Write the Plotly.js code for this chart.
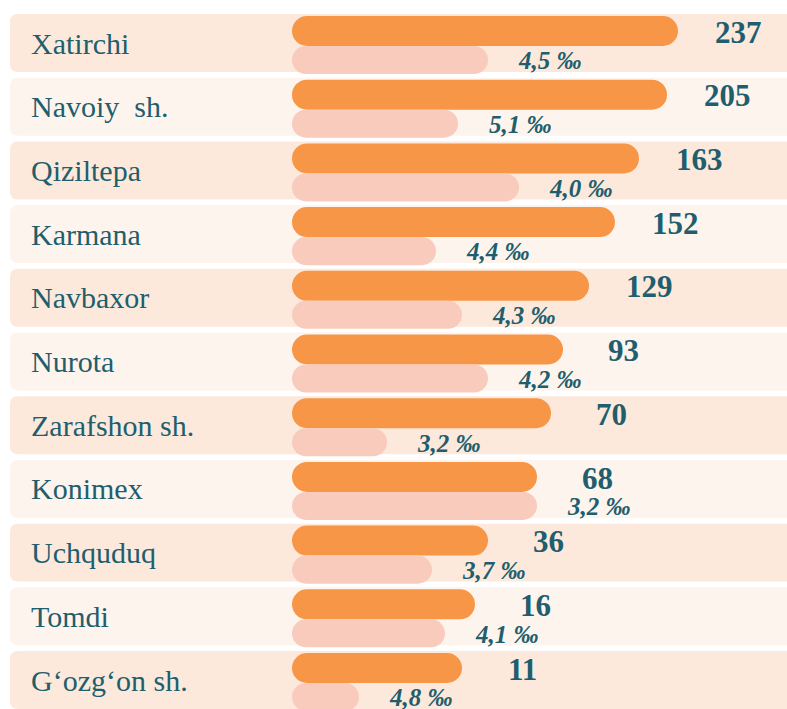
<!DOCTYPE html>
<html>
<head>
<meta charset="utf-8">
<script src="https://cdn.plot.ly/plotly-3.0.1.min.js"></script>
<style>html,body{margin:0;padding:0;background:#fff;}#chart{width:787px;height:709px;}</style>
</head>
<body>
<div id="chart"></div>
<script>
// Districts (top to bottom)
const districts = ["Xatirchi", "Navoiy  sh.", "Qiziltepa", "Karmana", "Navbaxor", "Nurota",
  "Zarafshon sh.", "Konimex", "Uchquduq", "Tomdi", "G‘ozg‘on sh."];
// Absolute numbers shown as labels
const counts = [237, 205, 163, 152, 129, 93, 70, 68, 36, 16, 11];
// Rates (per mille) shown as labels
const rates = ["4,5", "5,1", "4,0", "4,4", "4,3", "4,2", "3,2", "3,2", "3,7", "4,1", "4,8"];
// Bar lengths as drawn in the picture (picture's own bar scale)
const countBar = [386, 375, 347, 323, 297, 271, 259, 245, 196, 183, 170];
const rateBar = [196, 166, 227, 144, 170, 196, 95, 245, 140, 153, 67];

const TEXT = "#215e6d";
const SERIF = "'Liberation Serif', 'Times New Roman', serif";
const idx = districts.map((_, i) => i);

const traces = [
  {
    type: "bar", orientation: "h", y: idx, x: countBar, base: 0,
    offset: -0.424, width: 0.471,
    marker: {color: "#f79646", cornerradius: 15, line: {width: 0}},
    hoverinfo: "skip", showlegend: false
  },
  {
    type: "bar", orientation: "h", y: idx, x: rateBar, base: 0,
    offset: 0.047, width: 0.44,
    marker: {color: "#f9cbbc", cornerradius: 14, line: {width: 0}},
    hoverinfo: "skip", showlegend: false
  }
];

// Row background shapes (rounded on left)
const shapes = idx.map(i => {
  const y0 = i - 0.455, y1 = i + 0.455;
  const x0 = -282, x1 = 520;
  const rx = 8, ry = 8 / 63.7;
  const p = `M ${x0 + rx},${y0} L ${x1},${y0} L ${x1},${y1} L ${x0 + rx},${y1} ` +
    `Q ${x0},${y1} ${x0},${y1 - ry} L ${x0},${y0 + ry} Q ${x0},${y0} ${x0 + rx},${y0} Z`;
  return {
    type: "path", xref: "x", yref: "y", path: p, layer: "below",
    fillcolor: i % 2 === 0 ? "#fce9dc" : "#fdf4ee", line: {width: 0}
  };
});

const annotations = [];
idx.forEach(i => {
  annotations.push({
    x: -263, y: i, xref: "x", yref: "y", text: districts[i], showarrow: false,
    xanchor: "left", yanchor: "middle",
    font: {family: SERIF, size: 30, color: TEXT}
  });
  annotations.push({
    x: countBar[i] + 60, y: i - 0.17, xref: "x", yref: "y", text: "<b>" + counts[i] + "</b>",
    showarrow: false, xanchor: "center", yanchor: "middle",
    font: {family: SERIF, size: 31, color: TEXT}
  });
  annotations.push({
    x: rateBar[i] + 62, y: i + 0.28, xref: "x", yref: "y", text: "<b><i>" + rates[i] + " ‰</i></b>",
    showarrow: false, xanchor: "center", yanchor: "middle",
    font: {family: SERIF, size: 25, color: TEXT}
  });
});

const layout = {
  width: 787, height: 709,
  margin: {l: 0, r: 0, t: 0, b: 0, pad: 0},
  paper_bgcolor: "#ffffff", plot_bgcolor: "#ffffff",
  barmode: "overlay",
  xaxis: {range: [-292, 495], visible: false, fixedrange: true},
  yaxis: {range: [10.455, -0.675], visible: false, fixedrange: true},
  shapes: shapes,
  annotations: annotations
};

Plotly.newPlot("chart", traces, layout, {displayModeBar: false, staticPlot: true});
</script>
</body>
</html>
